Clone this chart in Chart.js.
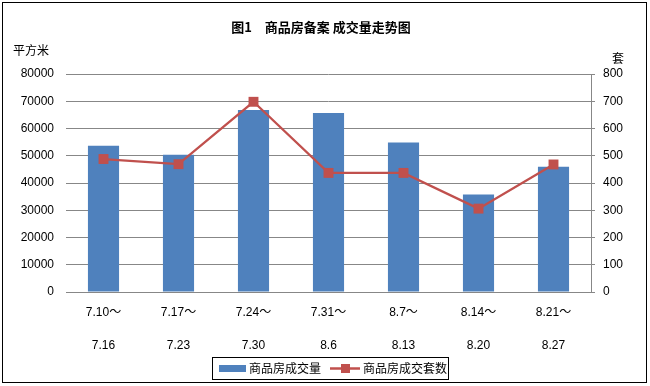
<!DOCTYPE html>
<html>
<head>
<meta charset="utf-8">
<script src="https://cdn.jsdelivr.net/npm/chart.js@4/dist/chart.umd.min.js"></script>
<style>
  html, body { margin: 0; padding: 0; background: #fff; }
  #wrap { width: 650px; height: 386px; position: relative; }
</style>
</head>
<body>
<div id="wrap"><canvas id="c" width="650" height="386"></canvas></div>
<script>
// ---- data ----
const periodStart = ["7.10～", "7.17～", "7.24～", "7.31～", "8.7～", "8.14～", "8.21～"];
const periodEnd   = ["7.16", "7.23", "7.30", "8.6", "8.13", "8.20", "8.27"];
const areaSold    = [53700, 50400, 66800, 65700, 54900, 35800, 46000];   // 平方米
const unitsSold   = [488, 469, 698, 437, 437, 306, 468];                 // 套
const areaTicks   = { min: 0, max: 80000, step: 10000 };
const unitTicks   = { min: 0, max: 800, step: 100 };
const titleText   = "图1　商品房备案 成交量走势图";
const leftUnit    = "平方米";
const rightUnit   = "套";
const seriesNames = ["商品房成交量", "商品房成交套数"];

const BLUE = "#4F81BD";
const RED = "#C0504D";
const GRID = "#878787";
const FONT = "'Liberation Sans', Arial, 'Noto Sans CJK SC', sans-serif";
const CJK = "'Noto Sans CJK SC', 'Liberation Sans', sans-serif";

const labels = periodStart.map((s, i) => [s, periodEnd[i]]);

const decor = {
  id: "decor",
  afterDraw(chart) {
    const ctx = chart.ctx;
    ctx.save();
    // outer border
    ctx.strokeStyle = "#000";
    ctx.lineWidth = 1;
    ctx.strokeRect(2.5, 2.5, 644, 380);
    // title
    ctx.fillStyle = "#000";
    ctx.font = "bold 13px " + CJK;
    ctx.textAlign = "center";
    ctx.textBaseline = "middle";
    ctx.fillText(titleText, 321, 27);
    // unit labels
    ctx.font = "12px " + CJK;
    ctx.textAlign = "left";
    ctx.fillText(leftUnit, 13, 50);
    ctx.fillText(rightUnit, 612, 58);
    // legend
    const lx = 212, ly = 357, lw = 236, lh = 22;
    ctx.strokeStyle = "#000";
    ctx.strokeRect(lx + 0.5, ly + 0.5, lw, lh);
    const cy = ly + lh / 2 + 0.5;
    ctx.fillStyle = BLUE;
    ctx.fillRect(219, cy - 3.5, 27, 7);
    ctx.fillStyle = "#000";
    ctx.font = "12px " + CJK;
    ctx.textBaseline = "middle";
    ctx.fillText(seriesNames[0], 249, cy);
    ctx.strokeStyle = RED;
    ctx.lineWidth = 2.5;
    ctx.beginPath();
    ctx.moveTo(330, cy);
    ctx.lineTo(360, cy);
    ctx.stroke();
    ctx.fillStyle = RED;
    ctx.fillRect(341, cy - 4.5, 9, 9);
    ctx.fillStyle = "#000";
    ctx.fillText(seriesNames[1], 363, cy);
    ctx.restore();
  }
};

new Chart(document.getElementById("c"), {
  data: {
    labels: labels,
    datasets: [
      {
        type: "line",
        label: seriesNames[1],
        data: unitsSold,
        yAxisID: "yR",
        borderColor: RED,
        backgroundColor: RED,
        borderWidth: 2.25,
        pointStyle: "rect",
        pointRadius: 7,
        pointBorderWidth: 0,
        pointBackgroundColor: RED,
        tension: 0,
        order: 0
      },
      {
        type: "bar",
        label: seriesNames[0],
        data: areaSold,
        yAxisID: "yL",
        backgroundColor: BLUE,
        borderWidth: 0,
        barPercentage: 0.415,
        categoryPercentage: 1,
        order: 1
      }
    ]
  },
  options: {
    responsive: false,
    animation: false,
    events: [],
    layout: { padding: { top: 74, left: 0, right: 0, bottom: 0 } },
    plugins: {
      legend: { display: false },
      title: { display: false },
      tooltip: { enabled: false }
    },
    scales: {
      x: {
        offset: true,
        grid: { display: false, drawTicks: false },
        border: { display: true, color: GRID, width: 1 },
        ticks: {
          color: "#000",
          padding: 4,
          maxRotation: 0,
          autoSkip: false,
          font: { family: FONT, size: 12, lineHeight: 2.75 }
        },
        afterFit(s) { s.height = 94; }
      },
      yL: {
        position: "left",
        min: areaTicks.min,
        max: areaTicks.max,
        grid: { color: GRID, lineWidth: 1, drawTicks: false },
        border: { display: false },
        ticks: {
          stepSize: areaTicks.step,
          color: "#000",
          padding: 12,
          font: { family: FONT, size: 12 },
          callback: (v) => String(v)
        },
        afterFit(s) { s.width = 66; }
      },
      yR: {
        position: "right",
        min: unitTicks.min,
        max: unitTicks.max,
        grid: { drawOnChartArea: false, color: GRID, drawTicks: true, tickLength: 4 },
        border: { display: true, color: GRID, width: 1 },
        ticks: {
          stepSize: unitTicks.step,
          color: "#000",
          padding: 8,
          font: { family: FONT, size: 12 },
          callback: (v) => String(v)
        },
        afterFit(s) { s.width = 59; }
      }
    }
  },
  plugins: [decor]
});
</script>
</body>
</html>
